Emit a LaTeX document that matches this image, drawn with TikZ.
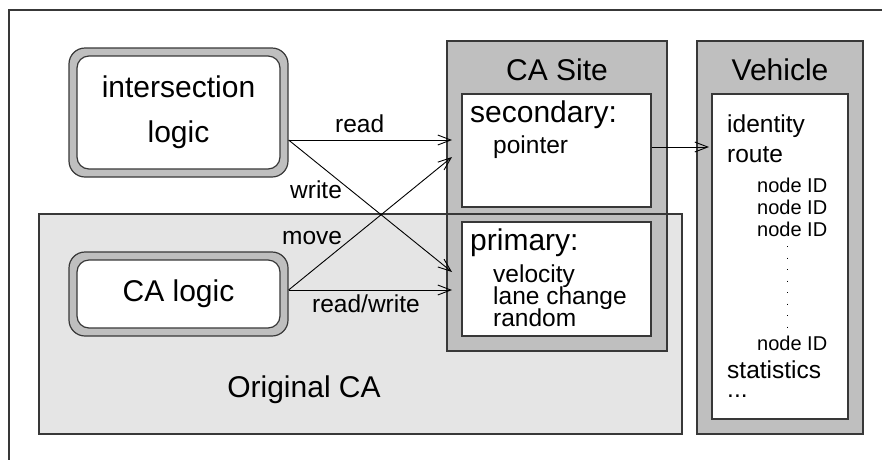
\documentclass[tikz,border=0pt]{standalone}
\usepackage{fontspec}
\setmainfont{Liberation Sans}
\usepackage{tikz}
\usetikzlibrary{calc,arrows.meta}
\definecolor{ca-edge}{HTML}{383838}
\definecolor{ca-frame}{HTML}{BFBFBF}
\definecolor{ca-orig}{HTML}{E5E5E5}

\begin{document}
\begin{tikzpicture}[x=1pt, y=-1pt,
    box/.style={draw=ca-edge, line width=1.2pt},
    frame/.style={box, fill=ca-frame},
    inbox/.style={box, fill=white},
    big/.style={font=\fontsize{30}{45}\selectfont, inner sep=0pt},
    mid/.style={font=\fontsize{24.5}{26}\selectfont, inner sep=0pt, anchor=base west},
    tight/.style={mid, text height=16pt, text depth=4.5pt},
    small/.style={font=\fontsize{20}{22}\selectfont, inner sep=0pt, anchor=base west},
    arr/.style={-{Straight Barb[length=13pt, width=10pt]}, line width=0.9pt, black}]
    \useasboundingbox (0,0) rectangle (882,459);
    \draw[box] (9,10) rectangle (900,480);
    % original CA area (fill first, outline later)
    \fill[ca-orig] (39,214) rectangle (682,434);
    \node[big, anchor=base] (orig) at (304,397) {Original CA};
    % logic boxes
    \node[frame, rounded corners=16pt, minimum width=219pt, minimum height=129pt] (inter) at (178.5,112.5) {};
    \node[inbox, rounded corners=12pt, minimum width=203pt, minimum height=113pt, big, align=center] (intertxt) at (178.5,112.5) {intersection\\logic};
    \node[frame, rounded corners=16pt, minimum width=219pt, minimum height=84pt] (ca) at (178.5,294) {};
    \node[inbox, rounded corners=12pt, minimum width=203pt, minimum height=68pt, big] (catxt) at (178.5,294) {CA logic};
    % CA site
    \node[frame, minimum width=220pt, minimum height=310pt] (site) at (557,196) {};
    \node[big, anchor=base] (sitetitle) at (557,80) {CA Site};
    \node[inbox, minimum width=189pt, minimum height=113pt] (sec) at (556.5,150.5) {};
    \node[inbox, minimum width=189pt, minimum height=114pt] (prim) at (556.5,279) {};
    \node[big, anchor=base west] (sectxt) at (470,122) {secondary:};
    \node[mid] (ptr) at (493,153) {pointer};
    \node[big, anchor=base west] (primtxt) at (470,250) {primary:};
    \node[tight] (vel) at (493,282) {velocity};
    \node[tight] (lane) at (493,304) {lane change};
    \node[tight] (rnd) at (493,326) {random};
    \draw[box] (39,214) rectangle (682,434);
    % vehicle
    \node[frame, minimum width=166pt, minimum height=393pt] (veh) at (780,237.5) {};
    \node[big, anchor=base] (vehtitle) at (780,80) {Vehicle};
    \node[inbox, minimum width=136pt, minimum height=325pt] (vehin) at (780,256.5) {};
    \node[mid] (ident) at (727,132) {identity};
    \node[mid] (route) at (727,162) {route};
    \foreach \y in {192,214,236,350}
        \node[small] (nid\y) at (757,\y) {node ID};
    \draw[line width=1pt, dash pattern=on 1.3pt off 10.2pt] (787,246) -- (787,328);
    \node[tight] (stats) at (727,378) {statistics};
    \node[mid, text height=3pt, text depth=0pt] (more) at (727,397) {...};
    % connectors
    \coordinate (sec rd) at (452,140);
    \coordinate (sec mv) at (452,157);
    \coordinate (prim wr) at (452,272);
    \coordinate (prim rw) at (452,290);
    \coordinate (veh in) at (709,147);
    \draw[arr] (inter.east |- sec rd) -- (sec rd);
    \draw[arr] (inter.east |- sec rd) -- (prim wr);
    \draw[arr] (ca.east |- prim rw) -- (sec mv);
    \draw[arr] (ca.east |- prim rw) -- (prim rw);
    \draw[arr] (sec.east |- veh in) -- (veh in);
    \node[mid] (lread) at (335,132) {read};
    \node[mid] (lwrite) at (290,198) {write};
    \node[mid] (lmove) at (282,244) {move};
    \node[mid] (lrw) at (312,312) {read/write};
\end{tikzpicture}
\end{document}
